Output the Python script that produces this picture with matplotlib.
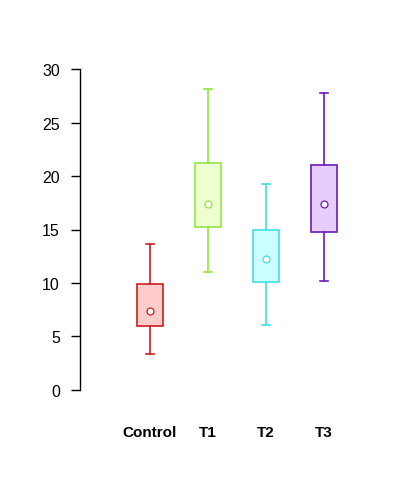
import matplotlib
matplotlib.use('Agg')
import matplotlib.pyplot as plt

plt.rcParams['font.family'] = ['Liberation Sans', 'DejaVu Sans']

# group names and box statistics
groups = ['Control', 'T1', 'T2', 'T3']
whisker_low = [3.35, 11.0, 6.05, 10.2]
box_low = [5.95, 15.2, 10.1, 14.8]
box_high = [9.9, 21.2, 14.95, 21.0]
whisker_high = [13.6, 28.1, 19.3, 27.8]
means = [7.35, 17.35, 12.2, 17.35]

edge_colors = ['#CC1F1F', '#92E640', '#40E0E0', '#6A1BBE']
fill_colors = ['#FFCCCC', '#EEFFD2', '#CCFFFF', '#E6CCFF']

stats = []
for i, g in enumerate(groups):
    stats.append({'label': g, 'whislo': whisker_low[i], 'q1': box_low[i],
                  'med': means[i], 'q3': box_high[i], 'whishi': whisker_high[i],
                  'mean': means[i], 'fliers': []})

fig = plt.figure(figsize=(3.94, 4.81), dpi=100)
ax = fig.add_axes([80 / 394, (481 - 407) / 481, 290 / 394, 353 / 481])

pos = [1, 2, 3, 4]
bp = ax.bxp(stats, positions=pos, widths=0.45, patch_artist=True,
            showmeans=True, showfliers=False)

for i in range(len(groups)):
    c = edge_colors[i]
    bp['boxes'][i].set_facecolor(fill_colors[i])
    bp['boxes'][i].set_edgecolor(c)
    bp['boxes'][i].set_linewidth(1.2)
    bp['medians'][i].set_visible(False)
    for w in bp['whiskers'][2 * i:2 * i + 2]:
        w.set_color(c)
        w.set_linewidth(1.2)
    for cap in bp['caps'][2 * i:2 * i + 2]:
        cap.set_color(c)
        cap.set_linewidth(1.2)
        xd = cap.get_xdata()
        mid = (xd[0] + xd[1]) / 2
        cap.set_xdata([mid - 0.075, mid + 0.075])
    m = bp['means'][i]
    m.set_marker('o')
    m.set_markerfacecolor('white')
    m.set_markeredgecolor(c)
    m.set_markersize(5)
    m.set_markeredgewidth(0.9)

ax.set_xlim(1 - 70 / 58, 4 + 46 / 58)
ax.set_ylim(-1.5, 31.5)
ax.set_yticks([0, 5, 10, 15, 20, 25, 30])
ax.spines['left'].set_bounds(0, 30)
ax.spines['left'].set_linewidth(1)
for s in ['top', 'right', 'bottom']:
    ax.spines[s].set_visible(False)

ax.tick_params(axis='y', length=6.5, width=1, labelsize=11.5, pad=8)
ax.tick_params(axis='x', length=0, labelsize=11, pad=14)
for t in ax.get_xticklabels():
    t.set_fontweight('bold')

fig.savefig('out.png', dpi=100)
